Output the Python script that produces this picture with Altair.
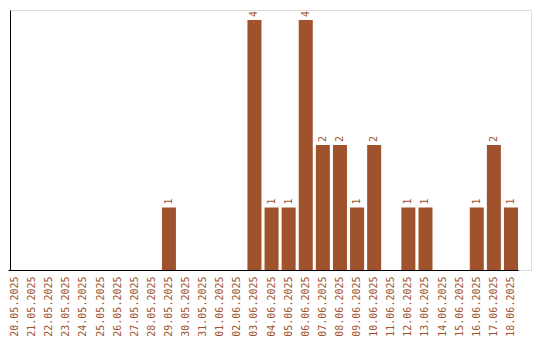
import altair as alt
import pandas as pd

dates = ["20.05.2025", "21.05.2025", "22.05.2025", "23.05.2025", "24.05.2025",
         "25.05.2025", "26.05.2025", "27.05.2025", "28.05.2025", "29.05.2025",
         "30.05.2025", "31.05.2025", "01.06.2025", "02.06.2025", "03.06.2025",
         "04.06.2025", "05.06.2025", "06.06.2025", "07.06.2025", "08.06.2025",
         "09.06.2025", "10.06.2025", "11.06.2025", "12.06.2025", "13.06.2025",
         "14.06.2025", "15.06.2025", "16.06.2025", "17.06.2025", "18.06.2025"]
counts = [0, 0, 0, 0, 0, 0, 0, 0, 0, 1,
          0, 0, 0, 0, 4, 1, 1, 4, 2, 2,
          1, 2, 0, 1, 1, 0, 0, 1, 2, 1]

df = pd.DataFrame({"date": dates, "count": counts})

COLOR = "#a0522d"
FONT = "DejaVu Sans Mono"

x = alt.X("date:N", sort=dates, title=None,
          scale=alt.Scale(range=[-2, 508], paddingInner=0.18, paddingOuter=0),
          axis=alt.Axis(labelAngle=270, ticks=False, domainColor="black",
                        labelColor=COLOR, labelFont=FONT, labelFontSize=10,
                        labelPadding=6, grid=False))
y = alt.Y("count:Q", title=None,
          scale=alt.Scale(domain=[0, 4.16], nice=False),
          axis=alt.Axis(labels=False, ticks=False, grid=False, domainColor="black"))

bars = alt.Chart(df).mark_bar(color=COLOR).encode(x=x, y=y)
text = alt.Chart(df).transform_filter("datum.count > 0").mark_text(
    angle=270, align="left", baseline="middle", dx=3,
    color=COLOR, font=FONT, fontSize=10
).encode(x=x, y=y, text="count:Q")

chart = (bars + text).properties(
    width=521, height=260,
    autosize=alt.AutoSizeParams(type="none"),
    padding={"left": 10, "top": 10, "right": 9, "bottom": 70},
).configure_view(stroke=None).configure(background="white")

chart.save("out.html", embed_options={"renderer": "svg", "actions": False})
